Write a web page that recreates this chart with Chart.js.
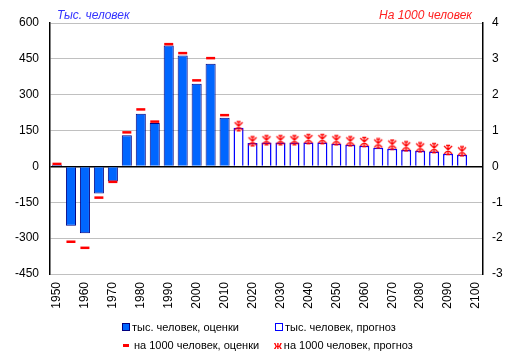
<!DOCTYPE html>
<html>
<head>
<meta charset="utf-8">
<script src="https://cdn.jsdelivr.net/npm/chart.js@4/dist/chart.umd.min.js"></script>
<style>
  body { margin: 0; background: #fff; }
  #wrap { position: relative; width: 520px; height: 358px; font-family: "Liberation Sans", Arial, sans-serif; font-size: 12px; color: #000; }
  #chart { position: absolute; left: 0; top: 0; }
  .title { position: absolute; top: 8px; font-style: italic; font-size: 12px; }
  .leg { position: absolute; white-space: nowrap; font-size: 11px; line-height: 14px; }
  .sw { display: inline-block; vertical-align: middle; margin-right: 2px; position: relative; top: -1px; }
</style>
</head>
<body>
<div id="wrap">
  <canvas id="chart" width="520" height="358"></canvas>
  <div class="title" style="left:57px;color:#3333ff;">Тыс. человек</div>
  <div class="title" style="right:48px;color:#ff2020;">На 1000 человек</div>
  <div class="leg" style="left:122px;top:320px;"><span class="sw" style="width:6px;height:6px;background:#0066ff;border:1px solid #000080;"></span>тыс. человек, оценки</div>
  <div class="leg" style="left:275px;top:320px;"><span class="sw" style="width:6px;height:6px;background:#fff;border:1.5px solid #0000ff;"></span>тыс. человек, прогноз</div>
  <div class="leg" style="left:123px;top:338px;"><span class="sw" style="width:6px;height:3px;background:#ff0000;margin-right:5px;"></span>на 1000 человек, оценки</div>
  <div class="leg" style="left:274px;top:338px;"><span style="color:#ff0000;font-weight:bold;margin-right:2px;">ж</span>на 1000 человек, прогноз</div>
</div>
<script>
"use strict";

const years = ["1950", "1955", "1960", "1965", "1970", "1975", "1980", "1985", "1990", "1995",
  "2000", "2005", "2010", "2015", "2020", "2025", "2030", "2035", "2040", "2045",
  "2050", "2055", "2060", "2065", "2070", "2075", "2080", "2085", "2090", "2095", "2100"];

// тыс. человек
const thousandsEstimate = [7, -248, -280, -113, -63, 130, 220, 182, 506, 464, 346, 430, 204,
  null, null, null, null, null, null, null, null, null, null, null, null, null, null, null, null, null, null];
const thousandsForecast = [null, null, null, null, null, null, null, null, null, null, null, null, null,
  162, 98, 100, 100, 100, 100, 100, 95, 91, 86, 78, 74, 69, 66, 62, 53, 49, null];

// на 1000 человек
const rateEstimate = [0.07, -2.1, -2.27, -0.87, -0.43, 0.95, 1.59, 1.25, 3.41, 3.16, 2.4, 3.02, 1.43,
  null, null, null, null, null, null, null, null, null, null, null, null, null, null, null, null, null, null];
const rateForecast = [null, null, null, null, null, null, null, null, null, null, null, null, null,
  1.12, 0.7, 0.73, 0.73, 0.73, 0.76, 0.76, 0.73, 0.7, 0.68, 0.64, 0.61, 0.56, 0.53, 0.51, 0.46, 0.42, null];

const leftTicks = [-450, -300, -150, 0, 150, 300, 450, 600];
const rightTicks = [-3, -2, -1, 0, 1, 2, 3, 4];

// red asterisk marker
const star = document.createElement("canvas");
star.width = 12;
star.height = 12;
const sctx = star.getContext("2d");
sctx.strokeStyle = "#ff0000";
sctx.lineWidth = 1.3;
sctx.beginPath();
sctx.moveTo(6, 1); sctx.lineTo(6, 11);
sctx.moveTo(2, 2); sctx.lineTo(10, 10);
sctx.moveTo(10, 2); sctx.lineTo(2, 10);
sctx.moveTo(4, 1.5); sctx.lineTo(8, 1.5);
sctx.moveTo(4, 10.5); sctx.lineTo(8, 10.5);
sctx.stroke();

const font = { family: "'Liberation Sans', Arial, sans-serif", size: 12 };

const data = {
  labels: years,
  datasets: [
    {
      type: "line",
      label: "на 1000 человек, оценки",
      data: rateEstimate,
      yAxisID: "y1",
      showLine: false,
      pointStyle: "line",
      pointRadius: 4.5,
      borderColor: "#ff0000",
      borderWidth: 2.5,
      order: 0,
    },
    {
      type: "line",
      label: "на 1000 человек, прогноз",
      data: rateForecast,
      yAxisID: "y1",
      showLine: false,
      pointStyle: star,
      order: 0,
    },
    {
      type: "bar",
      label: "тыс. человек, оценки",
      data: thousandsEstimate,
      yAxisID: "y",
      backgroundColor: "#0066ff",
      borderColor: "#000080",
      borderWidth: 1,
      order: 1,
    },
    {
      type: "bar",
      label: "тыс. человек, прогноз",
      data: thousandsForecast,
      yAxisID: "y",
      backgroundColor: "#ffffff",
      borderColor: "#0000ff",
      borderWidth: 1.5,
      order: 1,
    },
  ],
};

const config = {
  data: data,
  options: {
    responsive: false,
    animation: false,
    devicePixelRatio: 1,
    layout: { padding: { top: 23, bottom: 44 } },
    datasets: {
      bar: { grouped: false, barPercentage: 0.72, categoryPercentage: 1 },
    },
    plugins: {
      legend: { display: false },
      tooltip: { enabled: false },
    },
    scales: {
      x: {
        offset: true,
        grid: { display: false, drawTicks: false },
        border: { display: false },
        ticks: {
          autoSkip: false,
          maxRotation: 90,
          minRotation: 90,
          padding: 8,
          color: "#000",
          font: font,
          callback: function (value, index) {
            return index % 2 === 0 ? years[index] : "";
          },
        },
        afterFit: function (scale) { scale.height = 40; },
      },
      y: {
        position: "left",
        min: leftTicks[0],
        max: leftTicks[leftTicks.length - 1],
        afterBuildTicks: function (scale) {
          scale.ticks = leftTicks.map(function (v) { return { value: v }; });
        },
        grid: {
          drawTicks: false,
          color: function (ctx) { return ctx.tick && ctx.tick.value === 0 ? "#000000" : "#c0c0c0"; },
          lineWidth: function (ctx) { return ctx.tick && ctx.tick.value === 0 ? 1.5 : 1; },
        },
        border: { display: true, color: "#000", width: 1.5 },
        ticks: { padding: 11, color: "#000", font: font },
        afterFit: function (scale) { scale.width = 50; },
      },
      y1: {
        position: "right",
        min: rightTicks[0],
        max: rightTicks[rightTicks.length - 1],
        afterBuildTicks: function (scale) {
          scale.ticks = rightTicks.map(function (v) { return { value: v }; });
        },
        grid: { display: false, drawTicks: false },
        border: { display: true, color: "#000", width: 1.5 },
        ticks: { padding: 9, color: "#000", font: font },
        afterFit: function (scale) { scale.width = 37; },
      },
    },
  },
};

const myChart = new Chart(document.getElementById("chart"), config);
</script>
</body>
</html>
